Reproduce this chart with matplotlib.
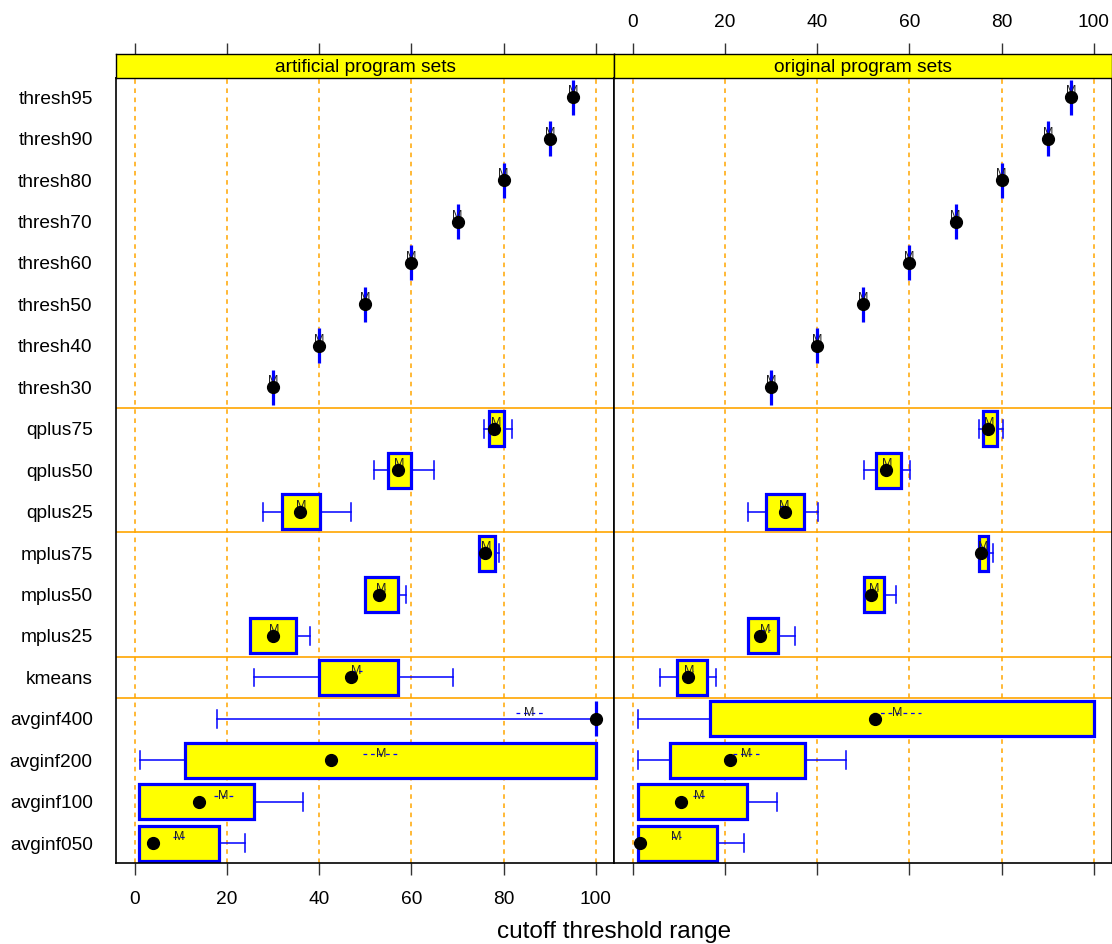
import matplotlib
matplotlib.use("Agg")
import matplotlib.pyplot as plt
import numpy as np

plt.rcParams['font.family'] = ['Liberation Sans', 'DejaVu Sans']

# Methods, listed top to bottom
categories = ["thresh95", "thresh90", "thresh80", "thresh70", "thresh60",
              "thresh50", "thresh40", "thresh30", "qplus75", "qplus50",
              "qplus25", "mplus75", "mplus50", "mplus25", "kmeans",
              "avginf400", "avginf200", "avginf100", "avginf050"]

panel_titles = ["artificial program sets", "original program sets"]

# Five-number summaries per panel (whisker low, Q1, median, Q3, whisker high)
art_wlo = [95, 90, 80, 70, 60, 50, 40, 30, 75.7, 51.8, 27.9, 74.7, 49.9, 24.9, 25.8, 17.9, 1.1, 0.9, 0.9]
art_q1  = [95, 90, 80, 70, 60, 50, 40, 30, 76.9, 54.9, 32.0, 74.7, 49.9, 24.9, 39.9, 100, 10.8, 0.9, 0.9]
art_med = [95, 90, 80, 70, 60, 50, 40, 30, 78.0, 57.0, 35.9, 76.0, 52.9, 30.0, 47.0, 100, 42.5, 13.9, 4.0]
art_q3  = [95, 90, 80, 70, 60, 50, 40, 30, 80.0, 59.9, 40.1, 78.1, 57.0, 35.0, 57.0, 100, 100, 25.8, 18.2]
art_whi = [95, 90, 80, 70, 60, 50, 40, 30, 81.9, 64.9, 47.0, 78.9, 58.9, 38.0, 69.0, 100, 100, 36.5, 24.0]
art_mean = [95, 90, 80, 70, 60, 50, 40, 30, 78.3, 57.4, 36.1, 76.3, 53.4, 30.3, 48.0, 85.6, 53.5, 19.2, 9.6]
art_ci   = [0, 0, 0, 0, 0, 0, 0, 0, 0.6, 0.8, 0.8, 0.5, 0.8, 0.8, 1.2, 2.9, 3.9, 2.1, 1.2]

orig_wlo = [95, 90, 80, 70, 60, 50, 40, 30, 75.1, 50.1, 25.0, 75.0, 50.1, 25.0, 5.9, 1.1, 1.1, 1.2, 1.2]
orig_q1  = [95, 90, 80, 70, 60, 50, 40, 30, 76.0, 52.7, 28.8, 75.0, 50.1, 25.0, 9.6, 16.7, 8.1, 1.2, 1.2]
orig_med = [95, 90, 80, 70, 60, 50, 40, 30, 77.0, 55.0, 33.0, 75.5, 51.6, 27.6, 12.0, 52.6, 21.1, 10.5, 1.6]
orig_q3  = [95, 90, 80, 70, 60, 50, 40, 30, 79.1, 58.1, 37.1, 77.1, 54.4, 31.4, 16.1, 100, 37.3, 24.7, 18.2]
orig_whi = [95, 90, 80, 70, 60, 50, 40, 30, 80.2, 60.1, 40.1, 78.1, 57.0, 35.2, 18.0, 100, 46.2, 31.2, 24.2]
orig_mean = [95, 90, 80, 70, 60, 50, 40, 30, 77.2, 55.1, 32.8, 76.0, 52.3, 28.8, 12.2, 57.3, 24.5, 14.4, 9.5]
orig_ci   = [0, 0, 0, 0, 0, 0, 0, 0, 0.5, 0.7, 0.8, 0.5, 0.8, 0.9, 0.9, 5.3, 2.8, 1.3, 1.0]

x_ticks = [0, 20, 40, 60, 80, 100]
group_breaks = [7.5, 10.5, 13.5, 14.5]

panels = [
    (art_wlo, art_q1, art_med, art_q3, art_whi, art_mean, art_ci),
    (orig_wlo, orig_q1, orig_med, orig_q3, orig_whi, orig_mean, orig_ci),
]

W, H = 1112, 944
fig = plt.figure(figsize=(W / 100, H / 100), dpi=100)

panel_left = [116.3, 614.3]
panel_w = 498.0
panel_top, panel_bot = 77.7, 862.7
strip_top = 54.0

yellow = "#FFFF00"
blue = "#0000FF"
orange = "#FFA500"
n = len(categories)
ypos = np.arange(n)
fs = 13.8

for k, (wlo, q1, med, q3, whi, mean, ci) in enumerate(panels):
    ax = fig.add_axes([panel_left[k] / W, (H - panel_bot) / H,
                       panel_w / W, (panel_bot - panel_top) / H])
    ax.set_xlim(-4, 104)
    ax.set_ylim(n - 1 + 0.47, -0.47)

    for xv in x_ticks:
        ax.axvline(xv, color=orange, lw=1.1, ls=(0, (3, 3)), zorder=0)
    for yb in group_breaks:
        ax.axhline(yb, color=orange, lw=1.2, zorder=0)

    stats = [dict(whislo=wlo[i], q1=q1[i], med=med[i], q3=q3[i], whishi=whi[i],
                  fliers=[]) for i in range(n)]
    ax.bxp(stats, positions=ypos, widths=0.845, orientation='horizontal',
           patch_artist=True, showfliers=False, capwidths=0.43,
           boxprops=dict(facecolor=yellow, edgecolor=blue, linewidth=2.3),
           whiskerprops=dict(color=blue, linewidth=1.1),
           capprops=dict(color=blue, linewidth=1.1),
           medianprops=dict(linewidth=0), manage_ticks=False, zorder=2)

    # mean marker with its interval, drawn just above the row centre
    for i in range(n):
        yy = ypos[i] - 0.145
        if ci[i] > 0:
            ax.plot([mean[i] - ci[i], mean[i] + ci[i]], [yy, yy], color=blue,
                    lw=0.9, ls=(0, (3, 3)), zorder=5)
        ax.text(mean[i], yy, "M", ha='center', va='center', fontsize=9,
                color='#222222', zorder=6)

    ax.plot(med, ypos, 'o', color='black', markersize=8.5, zorder=7)

    ax.set_yticks(ypos)
    if k == 0:
        ax.set_yticklabels(categories, fontsize=fs)
    else:
        ax.set_yticklabels([])
    ax.tick_params(axis='y', length=0, pad=17)
    ax.set_xticks(x_ticks)
    ax.tick_params(axis='x', direction='out', length=8.6, width=1.0,
                   labelsize=fs, pad=12, labelbottom=(k == 0), color='#333333')
    for sp in ax.spines.values():
        sp.set_linewidth(1.2)

    # strip with panel title and top-side ticks
    sax = fig.add_axes([panel_left[k] / W, (H - panel_top) / H,
                        panel_w / W, (panel_top - strip_top) / H])
    sax.set_xlim(-4, 104)
    sax.set_ylim(0, 1)
    sax.set_facecolor(yellow)
    sax.set_yticks([])
    sax.set_xticks(x_ticks)
    sax.tick_params(axis='x', top=True, bottom=False, labelbottom=False,
                    labeltop=(k == 1), direction='out', length=8, width=1.0,
                    labelsize=fs, pad=8.5, color='#333333')
    sax.text(50, 0.45, panel_titles[k], ha='center', va='center', fontsize=fs)
    for sp in sax.spines.values():
        sp.set_linewidth(1.0)

fig.text(614.5 / W, 1 - 932 / H, "cutoff threshold range", ha='center',
         va='center', fontsize=17.5)

fig.savefig("out.png", dpi=100)
